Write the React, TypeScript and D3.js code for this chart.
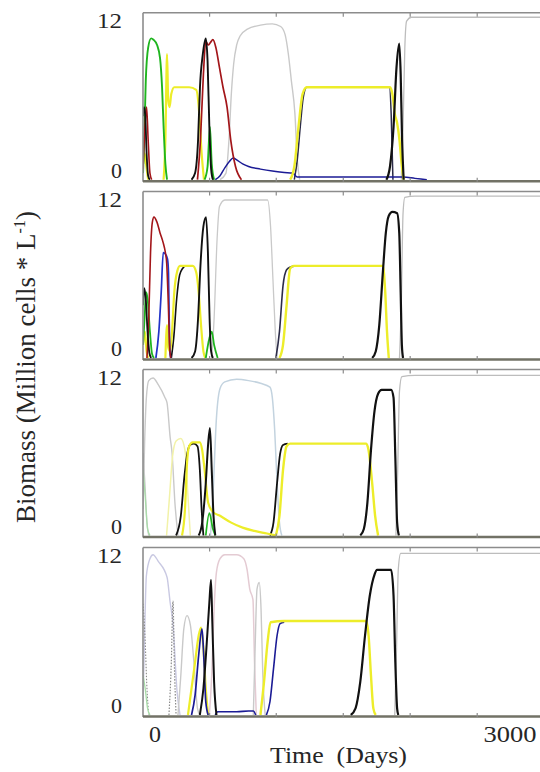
import React from "react";
import * as d3 from "d3";

type Pt = [number, number];

// ---------- x-axis ----------
const xTickValues = [0, 3000];
const xTickLabels = ["0", "3000"];
const minorTickDays = [472, 1033, 1597, 2160, 2724];
const yTickValues = [0, 12];
const yTickLabels = ["0", "12"];

// ---------- Panel 1 ----------
const p1GrayA: Pt[] = [[560,0],[610,0.5],[635,3],[655,6.5],[675,8.8],[700,10.2],[730,10.9],[790,11.4],[900,11.7],[1000,11.8],[1070,11.6],[1107,11],[1135,9.5],[1160,7.5],[1190,5],[1210,1.5],[1230,0]];
const p1GrayLate: Pt[] = [[2085,0],[2100,4],[2115,10],[2130,12],[2170,12.3],[3300,12.3]];
const p1Green: Pt[] = [[-88,0.5],[-78,3],[-65,7.5],[-45,10],[-20,10.7],[0,10.6],[30,10.2],[55,9.2],[72,7],[85,4],[100,1.2],[114,0]];
const p1Green2: Pt[] = [[430,0],[455,1],[475,4],[490,1.2],[510,0]];
const p1Yellow: Pt[] = [[-88,1.2],[-75,2],[-60,1],[-45,0]];
const p1Yellow2: Pt[] = [[85,0],[100,3],[114,9.5],[124,6],[135,5.5],[150,6.5],[175,7],[300,7],[360,6.8],[385,5],[405,2],[425,0]];
const p1Yellow3: Pt[] = [[1150,0],[1185,1],[1220,4],[1255,6.5],[1290,7],[1990,7],[2010,6.5],[2030,5],[2050,4.3],[2070,3],[2090,1],[2105,0]];
const p1Black: Pt[] = [[-88,4.8],[-80,5.5],[-70,5],[-58,2],[-45,0.3],[-30,0]];
const p1Black2: Pt[] = [[320,0],[350,0.5],[375,3],[391,7],[415,9.5],[440,10.7],[455,9],[470,4],[485,0.8],[500,0]];
const p1Black3: Pt[] = [[1960,0],[1990,1],[2020,4],[2045,8.5],[2068,10.3],[2080,8],[2092,3],[2105,0]];
const p1Red: Pt[] = [[-88,0.8],[-72,4],[-58,5.5],[-45,3],[-30,0.5],[-15,0]];
const p1Red2: Pt[] = [[370,0],[395,3],[420,8],[440,10.5],[460,10.2],[480,10.4],[500,10.6],[525,10],[555,8.5],[585,7],[619,5.5],[650,3],[690,1],[740,0]];
const p1Navy: Pt[] = [[520,0],[560,0.3],[600,0.9],[640,1.4],[670,1.65],[700,1.5],[750,1.2],[800,1.0],[900,0.8],[1000,0.65],[1100,0.55],[1170,0.5],[1195,0.3],[1210,0.2],[1600,0.2],[2100,0.2],[2200,0.1],[2300,0]];
const p1DarkRise: Pt[] = [[1185,0],[1210,1.5],[1235,4],[1260,6.2],[1290,7],[1985,7],[2000,5],[2015,0]];

// ---------- Panel 2 ----------
const p2Black: Pt[] = [[-88,4],[-78,5.3],[-65,4.5],[-50,2],[-35,0.4],[-20,0]];
const p2BlackRise: Pt[] = [[150,0],[170,1.5],[195,4.5],[220,6.3],[245,6.8],[270,7],[300,7]];
const p2Black2: Pt[] = [[320,0],[350,0.5],[375,3],[395,7],[420,10],[442,10.7],[458,8],[472,3],[485,0.5],[500,0]];
const p2NavyRise: Pt[] = [[1030,0],[1060,2],[1090,5.5],[1120,6.7],[1150,6.9],[1200,7]];
const p2Black3: Pt[] = [[1840,0],[1870,0.5],[1900,2.5],[1930,6.5],[1955,9.5],[1980,10.8],[2010,11.1],[2050,11],[2068,9.5],[2080,5],[2090,1],[2100,0]];
const p2Green: Pt[] = [[-88,1],[-75,3],[-63,5],[-50,4.5],[-30,2],[-12,0.3],[5,0]];
const p2Green2: Pt[] = [[440,0],[470,1.5],[490,2],[510,1],[540,0]];
const p2Red: Pt[] = [[-55,0],[-40,3],[-25,8],[-10,10.3],[4,10.7],[30,10.3],[55,9.5],[80,8.8],[100,8],[111,7.2],[125,4],[135,1],[145,0]];
const p2Blue: Pt[] = [[20,0],[45,2],[65,5],[82,8],[100,7.9],[118,7.5],[126,6.5],[132,3],[138,0.5],[145,0]];
const p2Yellow: Pt[] = [[-88,1],[-72,2],[-58,0.5],[-45,0]];
const p2Yellow2: Pt[] = [[100,0],[114,2.5],[124,0.8],[140,0.5],[156,2],[175,5],[200,6.6],[223,7],[330,7],[360,6.5],[380,5],[400,2.5],[420,0.5],[435,0]];
const p2Yellow3: Pt[] = [[1060,0],[1090,1],[1120,4],[1150,6.8],[1180,7],[1930,7],[1950,5],[1965,2],[1980,0]];
const p2Gray: Pt[] = [[490,0],[510,3],[535,9],[555,11.5],[600,12],[960,12],[985,10],[1005,6],[1025,2],[1040,0]];
const p2GrayLate: Pt[] = [[2070,0],[2085,4],[2100,11],[2115,12.2],[2200,12.3],[3300,12.3]];

// ---------- Panel 3 ----------
const p3GrayA: Pt[] = [[-88,2],[-75,7],[-60,10.5],[-40,11.8],[-4,12],[40,11.5],[97,10.5],[114,10.1],[140,7.5],[156,6.3],[181,2.4],[206,0]];
const p3GrayLeft: Pt[] = [[-88,6.3],[-72,4],[-55,1],[-40,0]];
const p3GreenLeft: Pt[] = [[-88,5],[-70,3],[-50,0.5],[-30,0]];
const p3PaleYellow: Pt[] = [[110,0],[135,3],[160,6],[190,7.2],[230,7.4],[265,6.5],[290,3],[310,0]];
const p3Black: Pt[] = [[190,0],[230,1.5],[260,4.5],[285,6.3],[307,6.9],[340,7],[370,6.8],[390,5],[405,2],[420,0]];
const p3Black2: Pt[] = [[380,0],[410,1],[440,4],[460,7],[475,8.2],[490,5],[505,1.5],[520,0]];
const p3Yellow: Pt[] = [[240,0],[265,2],[282,5.5],[300,6.8],[330,7.1],[390,7.1],[410,6.5],[430,5],[460,2.5],[500,1.8],[560,1.5],[650,1.0],[750,0.6],[850,0.35],[955,0.15],[1030,0]];
const p3Yellow2: Pt[] = [[1030,0],[1060,1.5],[1090,5],[1120,6.8],[1150,7],[1790,7],[1810,6.5],[1840,4],[1865,1.5],[1890,0]];
const p3BlackC: Pt[] = [[980,0],[1010,1],[1040,4],[1065,6.2],[1090,6.9],[1130,7]];
const p3BlackD: Pt[] = [[1740,0],[1770,0.5],[1800,2.5],[1830,6.5],[1860,9.5],[1890,10.8],[1920,11.1],[2000,11.1],[2020,10.5],[2035,6],[2050,1],[2065,0]];
const p3Green2: Pt[] = [[440,0],[470,1.7],[500,0.5],[520,0]];
const p3GrayB: Pt[] = [[480,0],[500,3],[530,9],[560,11.2],[600,11.7],[700,11.9],[800,11.8],[900,11.6],[980,11.3],[1000,10.5],[1020,8],[1040,4],[1060,1],[1080,0]];
const p3GrayLate: Pt[] = [[2040,0],[2055,5],[2070,11],[2090,12.1],[2200,12.2],[3300,12.2]];

// ---------- Panel 4 ----------
const p4GrayA: Pt[] = [[-88,1],[-75,6],[-60,10.5],[-30,11.8],[-4,12.1],[40,11.6],[114,10.4],[140,8.5],[164,6.9],[198,1.8],[223,0]];
const p4GrayLeft: Pt[] = [[-88,8.4],[-72,6],[-55,2],[-40,0]];
const p4GreenLeft: Pt[] = [[-88,3],[-70,2],[-50,0.5],[-30,0]];
const p4GraySpike: Pt[] = [[130,0],[150,4],[164,8.6],[175,4],[190,0]];
const p4GrayB: Pt[] = [[206,0],[230,3],[255,6.5],[282,7.5],[310,6.8],[340,4],[370,0.5],[390,0]];
const p4Blue: Pt[] = [[320,0],[350,1.5],[380,4.5],[408,6.5],[420,5],[440,1],[460,0]];
const p4Yellow: Pt[] = [[290,0],[320,2],[350,4],[380,6],[400,6.6],[420,5],[440,2],[460,0]];
const p4Black: Pt[] = [[390,0],[420,2],[445,5],[470,8.5],[484,10.2],[495,7],[510,2.5],[530,0]];
const p4NavyLow: Pt[] = [[520,0],[540,0.25],[600,0.25],[700,0.25],[800,0.3],[840,0.3],[860,0]];
const p4GrayBig: Pt[] = [[470,0],[490,3],[510,8],[530,10.8],[560,11.8],[600,12.1],[700,12.1],[760,11.8],[787,11],[810,9.5],[837,8.7],[850,4],[865,0]];
const p4GrayC: Pt[] = [[840,0],[855,5],[871,9.5],[890,10],[905,8],[920,3],[940,0]];
const p4Yellow2: Pt[] = [[900,0],[930,2.5],[960,5.5],[985,7],[1100,7.1],[1790,7.1],[1810,6],[1830,3],[1850,0.5],[1870,0]];
const p4Blue2: Pt[] = [[950,0],[980,1],[1010,3.5],[1040,6],[1065,6.9],[1100,7]];
const p4BlackD: Pt[] = [[1660,0],[1700,0.5],[1740,2.5],[1780,6],[1820,9],[1860,10.6],[1881,10.95],[2000,10.95],[2020,9],[2035,4],[2050,0.5],[2060,0]];
const p4GrayLate: Pt[] = [[2030,0],[2045,5],[2060,11],[2080,12.2],[3300,12.2]];

// ---------- styles ----------
const C = {
  gray: "#c9c9c9",
  grayLate: "#bdbdbd",
  lav: "#c9c9e2",
  pink: "#e4cbd3",
  blueGray: "#c3d3df",
  dotted: "#8a8a8a",
  paleYellow: "#f2f2a8",
  yellow: "#eded2a",
  green: "#1fb51f",
  red: "#a3161a",
  black: "#111111",
  navy: "#1b1b95",
  blue: "#2233c8",
  dark: "#2c2c48",
};

type S = { d: Pt[]; c: string; w: number; dash?: string };

const panels: { top: number; bottom: number; series: S[] }[] = [
  {
    top: 12.7, bottom: 181.7,
    series: [
      { d: p1GrayA, c: C.gray, w: 1.4 },
      { d: p1GrayLate, c: C.grayLate, w: 1.3 },
      { d: p1DarkRise, c: C.dark, w: 1.5 },
      { d: p1Navy, c: C.navy, w: 1.5 },
      { d: p1Yellow, c: C.yellow, w: 2.2 },
      { d: p1Yellow2, c: C.yellow, w: 2.2 },
      { d: p1Yellow3, c: C.yellow, w: 2.4 },
      { d: p1Green, c: C.green, w: 1.9 },
      { d: p1Green2, c: C.green, w: 1.9 },
      { d: p1Red, c: C.red, w: 1.6 },
      { d: p1Red2, c: C.red, w: 1.7 },
      { d: p1Black, c: C.black, w: 1.8 },
      { d: p1Black2, c: C.black, w: 1.9 },
      { d: p1Black3, c: C.black, w: 2.2 },
    ],
  },
  {
    top: 191.5, bottom: 360,
    series: [
      { d: p2Gray, c: C.gray, w: 1.3 },
      { d: p2GrayLate, c: C.grayLate, w: 1.3 },
      { d: p2BlackRise, c: C.black, w: 1.6 },
      { d: p2NavyRise, c: C.dark, w: 1.6 },
      { d: p2Yellow, c: C.yellow, w: 2.2 },
      { d: p2Yellow2, c: C.yellow, w: 2.2 },
      { d: p2Yellow3, c: C.yellow, w: 2.4 },
      { d: p2Green, c: C.green, w: 1.8 },
      { d: p2Green2, c: C.green, w: 1.8 },
      { d: p2Blue, c: C.blue, w: 1.7 },
      { d: p2Red, c: C.red, w: 1.6 },
      { d: p2Black, c: C.black, w: 1.8 },
      { d: p2Black2, c: C.black, w: 1.9 },
      { d: p2Black3, c: C.black, w: 2.2 },
    ],
  },
  {
    top: 369.5, bottom: 537.5,
    series: [
      { d: p3GrayA, c: C.gray, w: 1.4 },
      { d: p3GrayLeft, c: C.gray, w: 1.3 },
      { d: p3GreenLeft, c: "#a8dca8", w: 1.3 },
      { d: p3GrayB, c: C.blueGray, w: 1.5 },
      { d: p3GrayLate, c: C.grayLate, w: 1.3 },
      { d: p3PaleYellow, c: C.paleYellow, w: 1.5 },
      { d: p3Black, c: C.black, w: 1.8 },
      { d: p3BlackC, c: C.black, w: 1.8 },
      { d: p3Yellow, c: C.yellow, w: 2.2 },
      { d: p3Yellow2, c: C.yellow, w: 2.4 },
      { d: p3Green2, c: C.green, w: 1.7 },
      { d: p3Black2, c: C.black, w: 2 },
      { d: p3BlackD, c: C.black, w: 2.2 },
    ],
  },
  {
    top: 547.5, bottom: 717,
    series: [
      { d: p4GrayA, c: C.lav, w: 1.4 },
      { d: p4GrayLeft, c: C.dotted, w: 1.1, dash: "1.5,1.5" },
      { d: p4GreenLeft, c: "#a8dca8", w: 1.3 },
      { d: p4GrayB, c: C.gray, w: 1.4 },
      { d: p4GraySpike, c: C.dotted, w: 1.2, dash: "1.5,1.5" },
      { d: p4GrayBig, c: C.pink, w: 1.5 },
      { d: p4GrayC, c: C.gray, w: 1.4 },
      { d: p4GrayLate, c: C.grayLate, w: 1.3 },
      { d: p4Blue2, c: C.navy, w: 1.6 },
      { d: p4Yellow, c: C.yellow, w: 2.2 },
      { d: p4Yellow2, c: C.yellow, w: 2.4 },
      { d: p4Blue, c: C.navy, w: 1.7 },
      { d: p4NavyLow, c: C.navy, w: 1.6 },
      { d: p4Black, c: C.black, w: 2 },
      { d: p4BlackD, c: C.black, w: 2.2 },
    ],
  },
];

const LEFT = 143;
const RIGHT = 543.5;
const FONT = "'Liberation Serif', 'Times New Roman', serif";

export default function App() {
  const x = d3.scaleLinear().domain([0, 3000]).range([153.5, 510]);
  return (
    <svg
      width={540}
      height={772}
      style={{ position: "absolute", left: 0, top: 0, background: "#fff" }}
    >
      <rect x={0} y={0} width={540} height={772} fill="#fff" />
      {panels.map((p, i) => {
        const zero = p.bottom - 2;
        const twelve = p.top + 8.5;
        const y = d3.scaleLinear().domain([0, 12]).range([zero, twelve]);
        const line = d3
          .line<Pt>()
          .x((d) => x(d[0]))
          .y((d) => y(d[1]))
          .curve(d3.curveMonotoneX);
        const id = `clip${i}`;
        return (
          <g key={i}>
            <clipPath id={id}>
              <rect x={LEFT} y={p.top} width={RIGHT - LEFT} height={p.bottom - p.top} />
            </clipPath>
            <g clipPath={`url(#${id})`}>
              {p.series.map((s, j) => (
                <path
                  key={j}
                  d={line(s.d) || ""}
                  fill="none"
                  stroke={s.c}
                  strokeWidth={s.w}
                  strokeDasharray={s.dash}
                  strokeLinejoin="round"
                />
              ))}
            </g>
            {/* frame */}
            <line x1={LEFT} x2={RIGHT} y1={p.top} y2={p.top} stroke="#8c8c8c" strokeWidth={1.6} />
            <line x1={LEFT} x2={LEFT} y1={p.top} y2={p.bottom} stroke="#8c8c8c" strokeWidth={1.6} />
            <line x1={LEFT} x2={RIGHT} y1={p.bottom - 0.5} y2={p.bottom - 0.5} stroke="#727266" strokeWidth={2.6} />
            {minorTickDays.map((t, k) => (
              <g key={k}>
                <line x1={x(t)} x2={x(t)} y1={p.top} y2={p.top + 4} stroke="#8c8c8c" strokeWidth={1.2} />
                <line x1={x(t)} x2={x(t)} y1={p.bottom} y2={p.bottom - 4} stroke="#8c8c8c" strokeWidth={1.2} />
              </g>
            ))}
            {yTickValues.map((v, k) => (
              <text
                key={k}
                x={122}
                y={y(v) + (v === 0 ? -2 : 7)}
                textAnchor="end"
                fontFamily={FONT}
                fontSize={22}
                fill="#262626"
                textLength={v === 0 ? 11 : 25}
                lengthAdjust="spacingAndGlyphs"
              >
                {yTickLabels[k]}
              </text>
            ))}
          </g>
        );
      })}
      {xTickValues.map((v, k) => (
        <text
          key={k}
          x={x(v) + (v === 0 ? 1.5 : 0)}
          y={742}
          textAnchor="middle"
          fontFamily={FONT}
          fontSize={23}
          fill="#262626"
          textLength={v === 0 ? 12 : 53}
          lengthAdjust="spacingAndGlyphs"
        >
          {xTickLabels[k]}
        </text>
      ))}
      <text
        x={338.5}
        y={763}
        textAnchor="middle"
        fontFamily={FONT}
        fontSize={23}
        fill="#262626"
        textLength={137}
        lengthAdjust="spacingAndGlyphs"
        style={{ whiteSpace: "pre" }}
      >
        {"Time  (Days)"}
      </text>
      <text
        transform="translate(35,367) rotate(-90)"
        textAnchor="middle"
        fontFamily={FONT}
        fontSize={27}
        fill="#262626"
      >
        Biomass (Million cells * L
        <tspan fontSize={16} dy={-10}>-1</tspan>
        <tspan dy={10}>)</tspan>
      </text>
    </svg>
  );
}
